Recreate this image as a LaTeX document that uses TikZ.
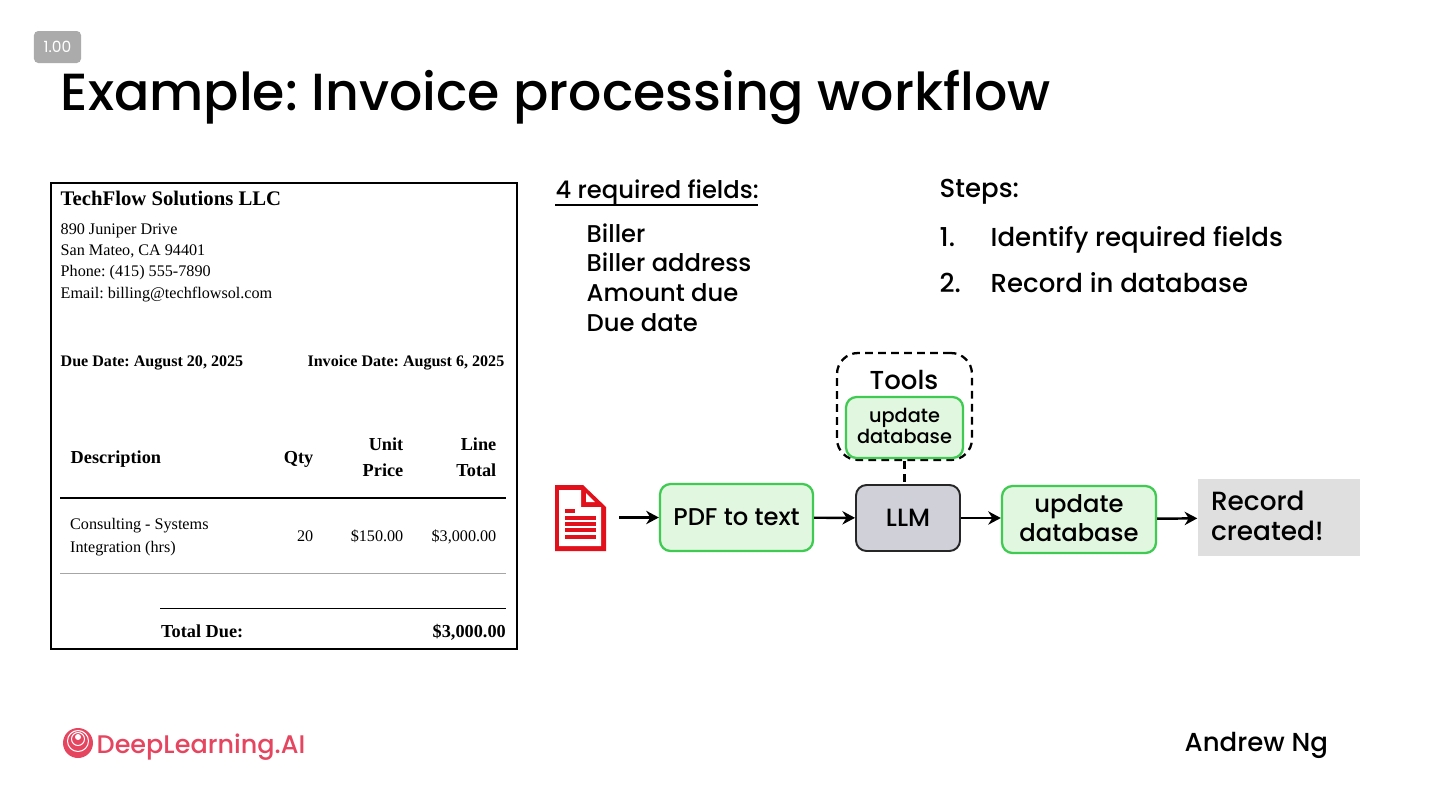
\documentclass[tikz,border=0pt]{standalone}
\usepackage{fontspec}
\setmainfont{Poppins}[UprightFont=* Medium]
\newfontfamily\titlefont{Poppins}
\newfontfamily\invoicefont{Liberation Serif}
\usetikzlibrary{arrows.meta,positioning}
\definecolor{toolgreen}{HTML}{3FCB52}
\definecolor{toolfill}{HTML}{E2F7E0}
\definecolor{llmfill}{HTML}{CFD0D8}
\definecolor{recordfill}{HTML}{DFDFDF}
\definecolor{pdfred}{HTML}{E2101A}
\definecolor{logored}{HTML}{E5455F}
\newcommand{\textlift}{\rule[-1pt]{0pt}{0pt}}
\tikzset{
  toolbox/.style={draw=toolgreen, fill=toolfill, line width=0.65pt, rounded corners=3pt, align=center, inner sep=0pt, text=black},
  flowarrow/.style={-{Stealth[length=3.6pt,width=3.8pt]}, line width=0.7pt},
  tooldash/.style={line width=0.65pt, dash pattern=on 2.2pt off 1.5pt},
  heading/.style={anchor=base west, inner sep=0pt, font=\fontsize{6.9}{8.4}\selectfont},
  stepline/.style={anchor=base west, inner sep=0pt, font=\fontsize{7.4}{8.4}\selectfont},
  inv/.style={anchor=base west, inner sep=0pt, font=\invoicefont\fontsize{4.6}{5.4}\selectfont},
  invbold/.style={anchor=base west, inner sep=0pt, font=\invoicefont\bfseries\fontsize{4.57}{5.4}\selectfont},
  invhead/.style={anchor=base west, inner sep=0pt, font=\invoicefont\bfseries\fontsize{5.2}{5.4}\selectfont},
  invnum/.style={anchor=base east, inner sep=0pt, font=\invoicefont\fontsize{4.6}{5.4}\selectfont},
  invheadnum/.style={anchor=base east, inner sep=0pt, font=\invoicefont\bfseries\fontsize{5.2}{5.4}\selectfont}
}
\begin{document}
\frenchspacing
\begin{tikzpicture}
    \useasboundingbox (0,0) rectangle (14.4,8.1);

    % Badge and title
    \node[fill=black!33, rounded corners=1.2pt, text=white, minimum width=0.47cm, minimum height=0.32cm, inner sep=0pt, font=\titlefont\fontsize{4.4}{5}\selectfont] (badge) at (0.575,7.63) {1.00};
    \node[anchor=base west, inner sep=0pt, font=\fontsize{14.85}{18}\selectfont] (title) at (0.6,7.0) {Example: Invoice processing workflow};

    % Invoice
    \draw[line width=0.55pt] (0.51,6.27) rectangle (5.17,1.61);
    \node[invbold, font=\invoicefont\bfseries\fontsize{5.9}{7}\selectfont] (company) at (0.60,6.05) {TechFlow Solutions LLC};
    \node[inv] (street) at (0.60,5.76) {890 Juniper Drive};
    \node[inv] (city) at (0.60,5.55) {San Mateo, CA 94401};
    \node[inv] (phone) at (0.60,5.34) {Phone: (415) 555-7890};
    \node[inv] (email) at (0.60,5.12) {Email: billing@techflowsol.com};
    \node[invbold] (duedate) at (0.60,4.44) {Due Date: August 20, 2025};
    \node[invbold, anchor=base east] (invdate) at (5.05,4.44) {Invoice Date: August 6, 2025};
    \node[invhead] (descr) at (0.70,3.47) {Description};
    \node[invheadnum] (qty) at (3.14,3.47) {Qty};
    \node[invheadnum] (unit) at (4.04,3.60) {Unit};
    \node[invheadnum] (price) at (4.04,3.34) {Price};
    \node[invheadnum] (line) at (4.97,3.60) {Line};
    \node[invheadnum] (total) at (4.97,3.34) {Total};
    \draw[line width=0.55pt] (0.60,3.12) -- (5.06,3.12);
    \node[inv] (item) at (0.695,2.81) {Consulting - Systems};
    \node[inv] (itemb) at (0.695,2.58) {Integration (hrs)};
    \node[invnum] (itemqty) at (3.14,2.69) {20};
    \node[invnum] (itemprice) at (4.04,2.69) {\$150.00};
    \node[invnum] (itemtotal) at (4.97,2.69) {\$3,000.00};
    \draw[line width=0.25pt, black!35] (0.60,2.37) -- (5.06,2.37);
    \draw[line width=0.25pt] (1.60,2.02) -- (5.06,2.02);
    \node[invhead] (totaldue) at (1.605,1.73) {Total Due:};
    \node[invheadnum] (totalval) at (5.065,1.73) {\$3,000.00};

    % Required fields
    \node[heading] (fields) at (5.55,6.12) {4 required fields:};
    \draw[line width=0.4pt] (5.55,6.05) -- (7.58,6.05);
    \node[heading] (biller) at (5.86,5.68) {Biller};
    \node[heading] (address) at (5.86,5.39) {Biller address};
    \node[heading] (amount) at (5.86,5.09) {Amount due};
    \node[heading] (date) at (5.86,4.79) {Due date};

    % Steps
    \node[stepline] (steps) at (9.39,6.13) {Steps:};
    \node[stepline] (numa) at (9.39,5.64) {1.};
    \node[stepline] (stepa) at (9.90,5.64) {Identify required fields};
    \node[stepline] (numb) at (9.39,5.18) {2.};
    \node[stepline] (stepb) at (9.90,5.18) {Record in database};

    % Tools
    \node[draw, tooldash, rounded corners=6pt, minimum width=1.35cm, minimum height=1.07cm, inner sep=0pt] (toolsbox) at (9.045,4.035) {};
    \node[inner sep=0pt, font=\fontsize{7.4}{9}\selectfont] (tools) at (9.04,4.30) {Tools};
    \node[toolbox, minimum width=1.17cm, minimum height=0.61cm, font=\fontsize{5.5}{6.2}\selectfont] (toolupdate) at (9.045,3.825) {update\\database\textlift};

    % PDF icon
    \fill[pdfred] (5.55,3.25) -- (5.83,3.25) -- (6.06,3.03) -- (6.06,2.59) -- (5.55,2.59) -- cycle;
    \fill[white] (5.59,3.20) -- (5.81,3.20) -- (5.81,3.03) -- (6.01,3.03) -- (6.01,2.64) -- (5.59,2.64) -- cycle;
    \fill[white] (5.86,3.17) -- (5.95,3.08) -- (5.86,3.08) -- cycle;
    \fill[pdfred] (5.65,2.975) rectangle (5.75,3.01);
    \foreach \y in {2.905,2.845,2.785,2.715} {
      \fill[pdfred] (5.65,\y) rectangle (5.96,\y+0.035);
    }

    % Flow
    \coordinate (pdfout) at (6.19,2.925);
    \node[toolbox, minimum width=1.53cm, minimum height=0.67cm, font=\fontsize{6.9}{8}\selectfont] (pdftext) at (7.365,2.925) {PDF to text};
    \node[draw=black!85, fill=llmfill, line width=0.55pt, rounded corners=3pt, minimum width=1.04cm, minimum height=0.66cm, inner sep=0pt, font=\fontsize{7.1}{8}\selectfont] (llm) at (9.08,2.92) {LLM};
    \node[toolbox, minimum width=1.54cm, minimum height=0.67cm, font=\fontsize{6.9}{8.2}\selectfont] (dbupdate) at (10.79,2.905) {update\\database\textlift};
    \node[fill=recordfill, minimum width=1.62cm, minimum height=0.77cm, inner sep=0pt, text width=1.36cm, align=left, font=\fontsize{7.5}{8.5}\selectfont] (record) at (12.79,2.925) {Record\\created!\textlift};
    \draw[flowarrow] (pdfout) -- (pdftext);
    \draw[flowarrow] (pdftext) -- (llm);
    \draw[flowarrow] (llm.east) -- (dbupdate.west |- llm.east);
    \draw[flowarrow] (dbupdate) -- (record);
    \draw[tooldash] (toolsbox.south) -- (toolsbox.south |- llm.north);

    % Logo and name
    \fill[logored] (0.78,0.67) circle (0.15);
    \draw[white, line width=0.3pt] (0.78,0.69) circle (0.105);
    \draw[white, line width=0.3pt] (0.78,0.71) circle (0.065);
    \fill[white] (0.78,0.73) circle (0.03);
    \node[anchor=base west, inner sep=0pt, text=logored, font=\fontsize{7.25}{9}\selectfont] (brand) at (0.96,0.57) {DeepLearning.AI};
    \node[anchor=base west, inner sep=0pt, font=\fontsize{7.4}{9}\selectfont] (author) at (11.84,0.59) {Andrew Ng};
  \end{tikzpicture}
\end{document}
